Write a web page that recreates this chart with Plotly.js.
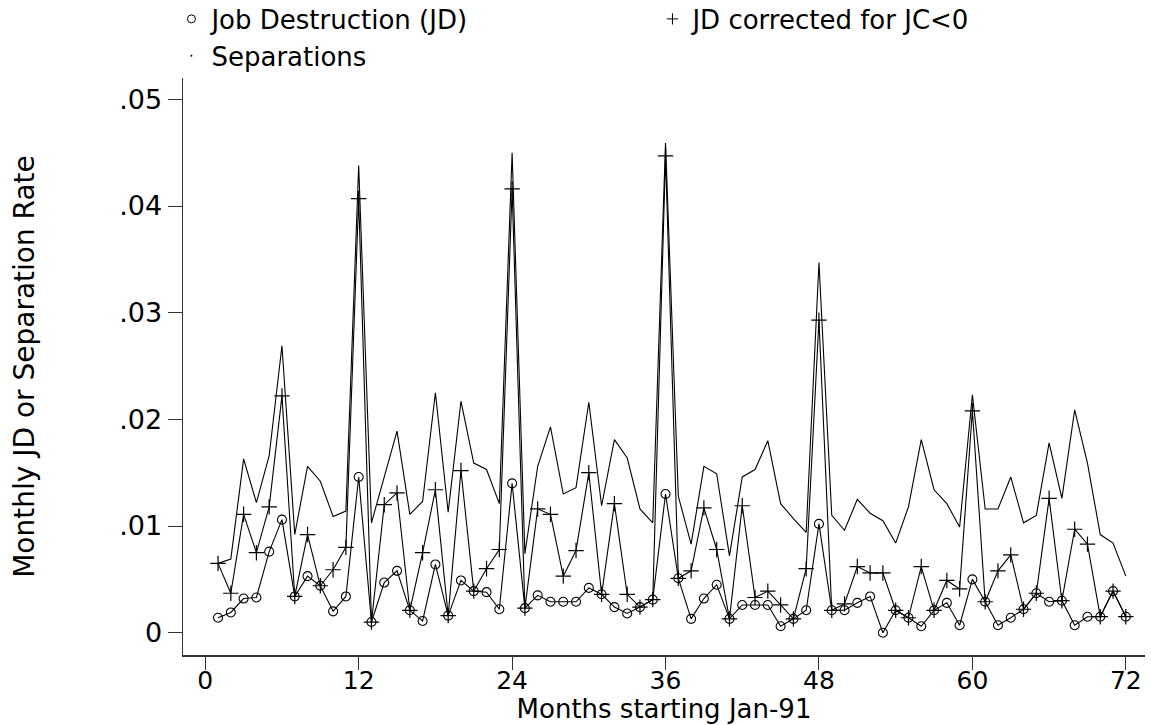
<!DOCTYPE html>
<html>
<head>
<meta charset="utf-8">
<script src="https://cdn.plot.ly/plotly-3.0.1.min.js"></script>
<style>html,body{margin:0;padding:0;background:#fff;}#chart{width:1151px;height:725px;}</style>
</head>
<body>
<div id="chart"></div>
<script>
var months = [];
for (var i = 1; i <= 72; i++) months.push(i);

var jobDestruction = [
  0.0014, 0.0019, 0.0032, 0.0033, 0.0076, 0.0106, 0.0034, 0.0053, 0.0044, 0.0020, 0.0034, 0.0146,
  0.0010, 0.0047, 0.0058, 0.0021, 0.0011, 0.0064, 0.0016, 0.0049, 0.0039, 0.0038, 0.0022, 0.0140,
  0.0023, 0.0035, 0.0029, 0.0029, 0.0029, 0.0042, 0.0036, 0.0024, 0.0018, 0.0024, 0.0031, 0.0130,
  0.0051, 0.0013, 0.0032, 0.0045, 0.0013, 0.0026, 0.0026, 0.0026, 0.0006, 0.0013, 0.0021, 0.0102,
  0.0021, 0.0021, 0.0028, 0.0034, 0.0000, 0.0021, 0.0014, 0.0006, 0.0021, 0.0028, 0.0007, 0.0050,
  0.0029, 0.0007, 0.0014, 0.0022, 0.0037, 0.0029, 0.0030, 0.0007, 0.0015, 0.0015, 0.0039, 0.0015
];

var jdCorrected = [
  0.0065, 0.0037, 0.0111, 0.0075, 0.0118, 0.0222, 0.0034, 0.0092, 0.0044, 0.0059, 0.0080, 0.0407,
  0.0010, 0.0120, 0.0131, 0.0021, 0.0075, 0.0134, 0.0016, 0.0152, 0.0039, 0.0060, 0.0078, 0.0416,
  0.0023, 0.0116, 0.0111, 0.0053, 0.0077, 0.0150, 0.0036, 0.0121, 0.0036, 0.0024, 0.0031, 0.0447,
  0.0051, 0.0058, 0.0117, 0.0078, 0.0013, 0.0119, 0.0033, 0.0039, 0.0026, 0.0013, 0.0060, 0.0293,
  0.0021, 0.0027, 0.0062, 0.0056, 0.0056, 0.0021, 0.0014, 0.0062, 0.0021, 0.0049, 0.0041, 0.0208,
  0.0029, 0.0058, 0.0073, 0.0022, 0.0037, 0.0126, 0.0030, 0.0097, 0.0083, 0.0015, 0.0039, 0.0015
];

var separations = [
  0.0065, 0.0069, 0.0163, 0.0122, 0.0166, 0.0269, 0.0092, 0.0156, 0.0142, 0.0109, 0.0114, 0.0438,
  0.0103, 0.0146, 0.0189, 0.0111, 0.0123, 0.0225, 0.0113, 0.0217, 0.0159, 0.0153, 0.0121, 0.0450,
  0.0074, 0.0156, 0.0193, 0.0130, 0.0136, 0.0216, 0.0119, 0.0181, 0.0164, 0.0116, 0.0103, 0.0459,
  0.0128, 0.0083, 0.0156, 0.0149, 0.0072, 0.0146, 0.0153, 0.0180, 0.0121, 0.0107, 0.0094, 0.0347,
  0.0110, 0.0096, 0.0125, 0.0112, 0.0105, 0.0084, 0.0118, 0.0181, 0.0134, 0.0121, 0.0099, 0.0223,
  0.0116, 0.0116, 0.0146, 0.0103, 0.0110, 0.0178, 0.0126, 0.0209, 0.0159, 0.0092, 0.0084, 0.0053
];

var xTickVals = [0, 12, 24, 36, 48, 60, 72];
var yTickVals = [0, 0.01, 0.02, 0.03, 0.04, 0.05];
var yTickText = ['0', '.01', '.02', '.03', '.04', '.05'];
var seriesNames = ['Job Destruction (JD)', 'JD corrected for JC<0', 'Separations'];

var FONT = 'DejaVu Sans, Liberation Sans, Arial, sans-serif';
var lineStyle = {color: '#000', width: 1.1};

var traces = [
  {x: months, y: separations, mode: 'lines', line: lineStyle, showlegend: false, hoverinfo: 'skip'},
  {x: months, y: jdCorrected, mode: 'lines+markers', line: lineStyle,
   marker: {symbol: 'cross-thin-open', size: 11, color: '#000', line: {color: '#000', width: 1.2}},
   showlegend: false},
  {x: months, y: jobDestruction, mode: 'lines+markers', line: lineStyle,
   marker: {symbol: 'circle-open', size: 9, color: '#000', line: {color: '#000', width: 1.1}},
   showlegend: false},
  // legend-only entries (markers only, as in the reference key)
  {x: [null], y: [null], mode: 'markers', name: seriesNames[0],
   marker: {symbol: 'circle-open', size: 8, color: '#000', line: {color: '#000', width: 1}}},
  {x: [null], y: [null], mode: 'markers', name: seriesNames[1],
   marker: {symbol: 'cross-thin-open', size: 8, color: '#000', line: {color: '#000', width: 1}}},
  {x: [null], y: [null], mode: 'markers', name: seriesNames[2],
   marker: {symbol: 'circle', size: 2, color: '#000'}}
];

var layout = {
  width: 1151, height: 725,
  paper_bgcolor: '#fff', plot_bgcolor: '#fff',
  margin: {l: 183, r: 6, t: 78, b: 70, autoexpand: false},
  font: {family: FONT, color: '#000', size: 26},
  showlegend: true,
  legend: {
    orientation: 'h', x: -0.012, xanchor: 'left', y: 1.143, yanchor: 'top',
    entrywidth: 436, entrywidthmode: 'pixels',
    font: {family: FONT, size: 26, color: '#000'},
    bgcolor: 'rgba(0,0,0,0)', itemclick: false, itemdoubleclick: false
  },
  xaxis: {
    range: [-1.74, 73.5], tickvals: xTickVals, ticktext: xTickVals.map(String),
    showgrid: false, zeroline: false, showline: true, linecolor: '#333', linewidth: 1.5,
    ticks: 'outside', ticklen: 13, tickwidth: 1, tickcolor: '#333',
    ticklabelstandoff: -11,
    tickfont: {family: FONT, size: 25, color: '#000'},
    title: {text: 'Months starting Jan-91', font: {family: FONT, size: 26, color: '#000'}, standoff: 0}
  },
  yaxis: {
    range: [-0.00209, 0.052], tickvals: yTickVals, ticktext: yTickText,
    showgrid: false, zeroline: false, showline: true, linecolor: '#333', linewidth: 1.5,
    ticks: 'outside', ticklen: 14, tickwidth: 1, tickcolor: '#333',
    tickfont: {family: FONT, size: 27, color: '#000'},
    title: {text: 'Monthly JD or Separation Rate', font: {family: FONT, size: 28, color: '#000'}, standoff: 76}
  }
};

Plotly.newPlot('chart', traces, layout, {displayModeBar: false, staticPlot: true});
</script>
</body>
</html>
